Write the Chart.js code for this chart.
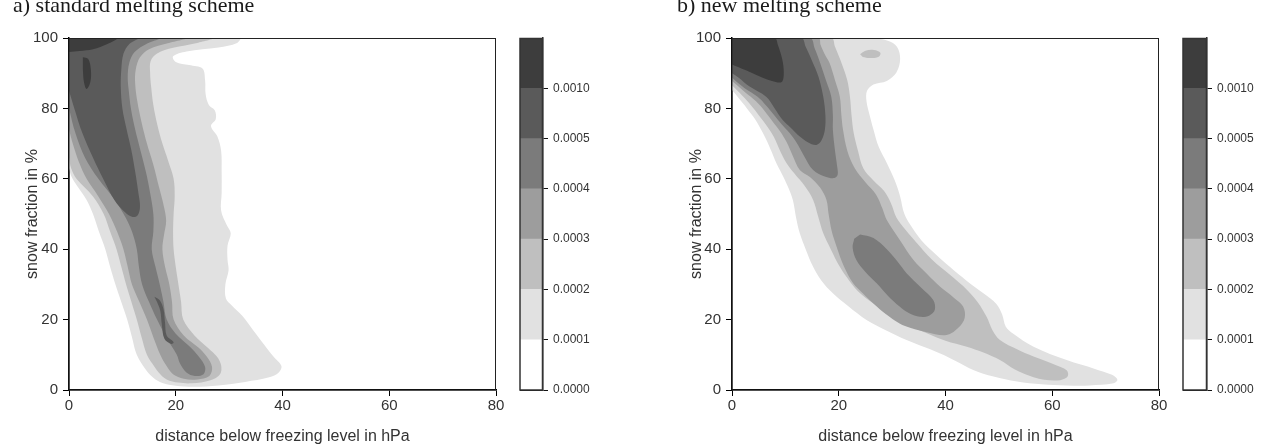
<!DOCTYPE html>
<html><head><meta charset="utf-8">
<script src="https://cdn.jsdelivr.net/npm/chart.js@4.4.1/dist/chart.umd.min.js"></script>
<style>
html,body{margin:0;padding:0;background:#fff;width:1272px;height:447px;overflow:hidden;}
.box{position:absolute;top:0;}
.ttl{position:absolute;font-family:'Liberation Serif','Times New Roman',serif;font-size:22px;line-height:22px;color:#1a1a1a;white-space:nowrap;}
</style></head><body>
<div class="box" style="left:0px"><canvas id="plotA" width="510" height="447"></canvas></div>
<div class="box" style="left:500px"><canvas id="barA" width="110" height="447"></canvas></div>
<div class="box" style="left:660px"><canvas id="plotB" width="515" height="447"></canvas></div>
<div class="box" style="left:1163px"><canvas id="barB" width="109" height="447"></canvas></div>
<div class="ttl" style="left:13px;top:-6px">a) standard melting scheme</div>
<div class="ttl" style="left:677px;top:-6px">b) new melting scheme</div>
<script>
// ---------- data ----------
const xTicks = [0, 20, 40, 60, 80];
const yTicks = [0, 20, 40, 60, 80, 100];
const levelLabels = ['0.0000', '0.0001', '0.0002', '0.0003', '0.0004', '0.0005', '0.0010'];
const levelColors = ['#ffffff', '#e1e1e1', '#bfbfbf', '#9d9d9d', '#7b7b7b', '#5a5a5a', '#3d3d3d'];
const bandValues = [1, 1, 1, 1, 1, 1, 1];

// contour outlines, [distance below freezing level (hPa), snow fraction (%)]
// a) standard melting scheme
const aLevel1 = [[0,100],[32,100],[31.5,98.6],[28,97.3],[22,96.2],[19.5,94.8],[20,93.2],[22.5,92.3],[25,91.3],[25.5,88],[25.6,84],[26.2,81],[27.3,79.5],[27.5,77],[26.6,75],[27.8,72],[28.5,68],[28.6,62],[28.6,56],[28.5,51],[29.5,47],[30.3,44.5],[29.7,41],[29.7,37],[29.9,34],[29.3,30],[29.4,26],[30.5,24],[32.5,21],[34.5,17],[36.5,13],[38.3,9.5],[39.8,6.8],[39.3,5],[37.5,3.6],[33,2.3],[28,1.3],[23.5,0.9],[20,1.2],[17.5,2],[15.8,3.5],[14.3,6],[12.7,10],[11.8,15],[10.9,20],[9.8,25],[8.7,30],[7.7,35],[6.8,40],[5.6,45],[4.5,50],[3.3,54],[1.5,58],[0.5,60.5],[0,63]];
const aLevel2 = [[0,100],[27,100],[24,98.6],[19.5,97.2],[16.5,95.6],[15.3,93.5],[15.2,90],[15.4,86],[15.8,81],[16.6,75],[17.5,70],[18.6,65],[19.6,60],[19.8,55],[19.6,50],[19.5,45],[19.6,40],[20,35],[20.5,30],[21,25],[21.4,20],[23.5,15.5],[26,12],[27.7,9.5],[28.5,7],[28.3,4.5],[26.5,2.8],[23,1.9],[20.5,2.1],[18.3,3],[16.8,5],[15.6,7.5],[14.6,10],[13.6,15],[12.7,20],[11.7,25],[10.7,30],[9.8,35],[8.9,40],[7.7,45],[6.5,50],[4.5,55],[1.4,60],[0.4,63],[0,66]];
const aLevel3 = [[0,100],[22,100],[18.5,98.5],[15,96.8],[13.3,94.5],[12.5,91],[12.4,87],[12.8,82],[13.6,76],[14.6,70],[15.8,64],[16.8,58],[17.8,52],[18.2,48],[17.8,44],[17.5,40],[18,35],[18.8,30],[19.3,25],[19.6,20],[21.5,15.5],[24.3,12],[25.8,9.5],[26.8,6.5],[26.3,4],[24,3],[21.5,3.2],[19.5,4.5],[18.2,7],[17.1,10],[15.8,15],[14.6,20],[13.2,25],[11.8,30],[11,35],[10.2,40],[9,45],[7.5,50],[5.5,55],[3.3,60],[1.8,65],[0.7,70],[0,74]];
const aLevel4 = [[0,100],[17,100],[14.5,98.3],[12.3,96],[11.3,93],[11,89],[11.2,85],[11.6,80],[12.4,74],[13.4,68],[14.4,62],[15.2,56],[15.8,50],[15.8,45],[15.5,40],[16.2,35],[17,30],[17.7,25],[18.3,20],[20,16],[22.5,12.5],[24.3,9.5],[25.5,6.5],[25.2,4.5],[23.6,4],[22,5],[20.8,7.5],[20.2,10],[18.2,15],[16.5,20],[15,25],[13.7,30],[13.1,35],[12.7,40],[11.8,45],[10.6,49],[8.6,54],[5.5,60],[3,66],[1.2,73],[0,80]];
const aLevel5 = [[0,100],[13,100],[11.3,98.3],[10.2,95.5],[9.8,91],[9.7,86],[10,80],[10.8,74],[11.7,68],[12.4,62],[13,56],[13.3,52],[12.8,49.5],[11.8,49.2],[10.5,50.5],[8.5,54],[6.4,60],[4.5,66],[2.5,73],[1,80],[0,85]];
const aLevel5b = [[16,26.5],[17,25.5],[17.7,23],[18,19],[18.3,15.5],[19.6,13.6],[19.2,13.1],[17.9,14.5],[17.4,18.5],[17.1,22.5],[16.5,25]];
const aLevel6 = [[0,100],[9,100],[7.2,98.3],[4.5,96.8],[2,96.3],[0,96]];
const aLevel6b = [[2.6,94.5],[3.6,94],[4.1,91],[4,87.5],[3.3,85.5],[2.8,87.5],[2.6,91]];

// b) new melting scheme
const bLevel1 = [[0,100],[26,100],[29.2,99.2],[30.9,97.5],[31.5,94],[30.8,90.2],[29,87.8],[26.5,86.8],[25.3,85],[25.2,82],[25.8,78],[26.5,74],[27.5,69],[29,64.5],[30.5,59.5],[31.5,55],[32.3,50],[33.8,46],[35.5,42.5],[38.2,38.5],[40.8,35],[44,31],[47.1,27.5],[49.5,24.5],[50.6,21.5],[51.3,18],[52.7,16],[56.5,12.3],[62.7,8.5],[68,6],[71.2,4.3],[72.2,2.9],[71.5,1.9],[67,1.3],[62.7,1.3],[58,1.6],[53.4,2.4],[49,3.8],[45.2,5.7],[42,8.2],[39,10.4],[35.5,12.5],[32.7,14.2],[28.8,17],[25.2,19.9],[21.8,23.8],[18.9,27.5],[16.8,31],[15.2,35],[13.8,40],[12.7,44.5],[12,49],[11.4,54],[10.4,58],[9.3,61.5],[8.3,64.5],[7.2,68.5],[5.8,73],[4.3,77],[2.8,80],[1.2,83],[0,85.2]];
const bLevel2 = [[0,100],[18.6,100],[19.3,97.5],[20.5,93],[21.6,88],[22.1,83.3],[22.4,78],[22.8,73],[23.6,68],[24.6,63],[26.5,59.5],[28.5,56.5],[29.8,53],[30.8,49],[32.5,45.5],[34.5,42],[37.5,37],[41,32.5],[44,28.5],[46,25],[47.7,20.8],[48.8,17],[50.2,14.2],[53.5,11.5],[56.5,9.5],[60.5,7.2],[62.7,5.6],[62.9,3.9],[61.5,2.8],[58.5,2.9],[56.5,3.6],[53,5.8],[50.2,8.5],[47,10.7],[44,12.3],[40,14],[36.5,16.1],[32.5,18.8],[29,21.8],[26.3,24.8],[24,27.5],[22,31],[20.2,35],[18.5,40],[17.1,44.5],[16.1,49.5],[15.2,54],[13.6,58],[11.7,61.5],[10.2,64.5],[9,68],[7.8,72],[6.3,75.5],[4.8,78.5],[3.2,81.5],[1.5,84.3],[0,86.6]];
const bLevel2b = [[24,95.4],[25,96.4],[26.6,96.6],[27.8,95.8],[27.5,94.7],[25.8,94.3],[24.5,94.6]];
const bLevel3 = [[0,100],[16.2,100],[16.6,98],[17.5,95],[18.3,92.8],[19.3,88],[20.2,83.3],[20.5,78],[20.8,73.9],[21.6,68],[23,63],[25,59],[27,55.5],[28.2,51.5],[29,48.3],[31.5,42.5],[34,36.9],[36.5,33],[39,29.3],[41.5,26.3],[43.3,23.7],[43.6,20.5],[42.5,17.8],[40.2,15.6],[36.5,16.4],[33.5,17.6],[31.4,18.9],[28.8,21.6],[26.5,24.6],[24.5,27.5],[22.7,30.3],[21,35],[19.6,40.7],[18.7,45],[18.1,50],[17.7,54],[16.5,57.5],[14.6,60.5],[12.7,62.5],[11.4,66.5],[10.2,70.5],[9,73.5],[7.5,76.5],[6,79.5],[4.5,82],[2.5,84.5],[1,86.5],[0,87.8]];
const bLevel4 = [[0,100],[14.6,100],[15.5,97],[16.5,93],[17.6,88],[18.6,83.3],[18.9,78],[18.9,73.9],[19.3,68],[19.7,63.5],[19.8,61.2],[19.2,60.2],[17.5,60.6],[15.2,62.5],[13.5,66.5],[12,70.5],[10.8,73],[9.3,75.5],[7.8,78.3],[6.3,81],[4.8,83.3],[2.3,85.8],[0.6,87.9],[0,88.8]];
const bLevel4b = [[24,44.2],[26.5,43.2],[29,40],[31,36.5],[32.7,33.2],[35.5,29],[37.7,25.6],[38,22.8],[37,21.2],[35.2,20.8],[33.2,21.8],[31.4,23.7],[29.2,26.8],[27.1,30.3],[25,33.5],[23.3,36.9],[22.6,40.5],[22.9,43]];
const bLevel5 = [[0,100],[13,100],[13.8,97.5],[15,93.5],[16.2,89],[17.1,83.3],[17.5,78],[17.4,73.9],[16.8,71],[15.8,69.6],[14.2,70.4],[12.7,72],[11,74.5],[9.5,76.7],[8,80],[6.4,83.3],[3.3,86.2],[1.2,88.8],[0,90]];
const bLevel6 = [[0,100],[8,100],[8.6,98],[9.4,94],[9.7,90],[9.3,87.5],[7.5,87.8],[5,89.2],[2.5,90.9],[0,92.5]];

const panelA = [[1,aLevel1],[2,aLevel2],[3,aLevel3],[4,aLevel4],[5,aLevel5],[5,aLevel5b],[6,aLevel6],[6,aLevel6b]];
const panelB = [[1,bLevel1],[2,bLevel2],[2,bLevel2b],[3,bLevel3],[4,bLevel4],[4,bLevel4b],[5,bLevel5],[6,bLevel6]];

// ---------- rendering ----------
Chart.defaults.font.family = "'Liberation Sans', Arial, Helvetica, sans-serif";
Chart.defaults.color = '#333';

const contourFill = {
  id: 'contourFill',
  afterDatasetDraw(chart, args) {
    const line = args.meta.dataset;
    if (!line || !line.points || !line.points.length) return;
    const a = chart.chartArea, ctx = chart.ctx;
    ctx.save();
    ctx.beginPath(); ctx.rect(a.left, a.top, a.right - a.left, a.bottom - a.top); ctx.clip();
    ctx.beginPath();
    line.path(ctx);
    ctx.closePath();
    ctx.fillStyle = chart.data.datasets[args.index].backgroundColor;
    ctx.fill();
    ctx.restore();
  }
};
const frame = {
  id: 'frame',
  afterDraw(chart, args, opts) {
    const a = chart.chartArea, ctx = chart.ctx;
    ctx.save();
    ctx.strokeStyle = opts.color || '#222';
    ctx.lineWidth = opts.width || 1;
    ctx.strokeRect(a.left, a.top + 0.5, a.right - a.left - 0.5, a.bottom - a.top - 0.5);
    ctx.restore();
  }
};

function makePlot(id, polys, rightPad, yAxisWidth, yTitlePad) {
  const datasets = polys.map(([lvl, pts]) => ({
    data: pts.map(([x, y]) => ({x, y})),
    backgroundColor: levelColors[lvl],
    borderWidth: 0, pointRadius: 0, pointHoverRadius: 0,
    tension: 0.35, fill: false, order: 10 - lvl
  }));
  return new Chart(document.getElementById(id), {
    type: 'line',
    data: {datasets},
    options: {
      responsive: false, animation: false, events: [], devicePixelRatio: 1,
      layout: {padding: {top: 38, left: 0, right: rightPad, bottom: 0}},
      plugins: {legend: {display: false}, tooltip: {enabled: false}, frame: {color: '#222', width: 1}},
      scales: {
        x: {
          type: 'linear', min: 0, max: 80, position: 'bottom', z: 1,
          afterBuildTicks: s => { s.ticks = xTicks.map(v => ({value: v})); },
          ticks: {font: {size: 15}, color: '#333', padding: 1, maxRotation: 0, autoSkip: false},
          grid: {drawOnChartArea: false, tickLength: 6, tickColor: '#000', tickWidth: 1},
          border: {color: '#000', width: 1.5},
          title: {display: true, text: 'distance below freezing level in hPa', font: {size: 16}, color: '#333', padding: {top: 0, bottom: 1}},
          afterFit: s => { s.height = 57; }
        },
        y: {
          type: 'linear', min: 0, max: 100, position: 'left', z: 1,
          afterBuildTicks: s => { s.ticks = yTicks.map(v => ({value: v})); },
          ticks: {font: {size: 15}, color: '#333', padding: 5, autoSkip: false},
          grid: {drawOnChartArea: false, tickLength: 6, tickColor: '#000', tickWidth: 1},
          border: {color: '#000', width: 1.5},
          title: {display: true, text: 'snow fraction in %', font: {size: 16}, color: '#333', padding: {top: yTitlePad, bottom: 0}},
          afterFit: s => { s.width = yAxisWidth; }
        },
        gx: {
          axis: 'x', type: 'linear', min: 0, max: 80, position: 'top', z: 1,
          ticks: {display: false, stepSize: 3},
          grid: {drawTicks: false, lineWidth: 1,
                 color: c => (c.tick && c.tick.value > 0 && c.tick.value < 80) ? 'rgba(255,255,255,0.22)' : 'rgba(0,0,0,0)'},
          border: {display: false},
          afterFit: s => { s.height = 0; }
        },
        gy: {
          axis: 'y', type: 'linear', min: 0, max: 100, position: 'right', z: 1,
          ticks: {display: false, stepSize: 2},
          grid: {drawTicks: false, lineWidth: 1,
                 color: c => (c.tick && c.tick.value > 0 && c.tick.value < 100) ? 'rgba(255,255,255,0.2)' : 'rgba(0,0,0,0)'},
          border: {display: false},
          afterFit: s => { s.width = 0; }
        }
      }
    },
    plugins: [contourFill, frame]
  });
}

function makeBar(id, axisWidth) {
  const datasets = bandValues.map((v, i) => ({
    data: [v], backgroundColor: levelColors[i], borderWidth: 0,
    barPercentage: 1, categoryPercentage: 1
  }));
  return new Chart(document.getElementById(id), {
    type: 'bar',
    data: {labels: [''], datasets},
    options: {
      responsive: false, animation: false, events: [], devicePixelRatio: 1,
      layout: {padding: {top: 38, left: 20, right: 0, bottom: 57}},
      plugins: {legend: {display: false}, tooltip: {enabled: false}, frame: {color: '#333', width: 1.5}},
      scales: {
        x: {stacked: true, display: false},
        y: {
          stacked: true, position: 'right', min: 0, max: 7, z: 1,
          afterBuildTicks: s => { s.ticks = [0,1,2,3,4,5,6,7].map(v => ({value: v})); },
          ticks: {font: {size: 12}, color: '#333', padding: 5, autoSkip: false,
                  callback: v => (levelLabels[v] !== undefined ? levelLabels[v] : '')},
          grid: {color: '#111', lineWidth: 1, tickLength: 5,
                 tickColor: c => (c.tick && c.tick.value === 7) ? 'rgba(0,0,0,0)' : '#111'},
          border: {color: '#333', width: 1.5},
          afterFit: s => { s.width = axisWidth; }
        }
      }
    },
    plugins: [frame]
  });
}

makePlot('plotA', panelA, 14, 69, 23);
makePlot('plotB', panelB, 16, 72, 27);
makeBar('barA', 67);
makeBar('barB', 65);
</script>
</body></html>
